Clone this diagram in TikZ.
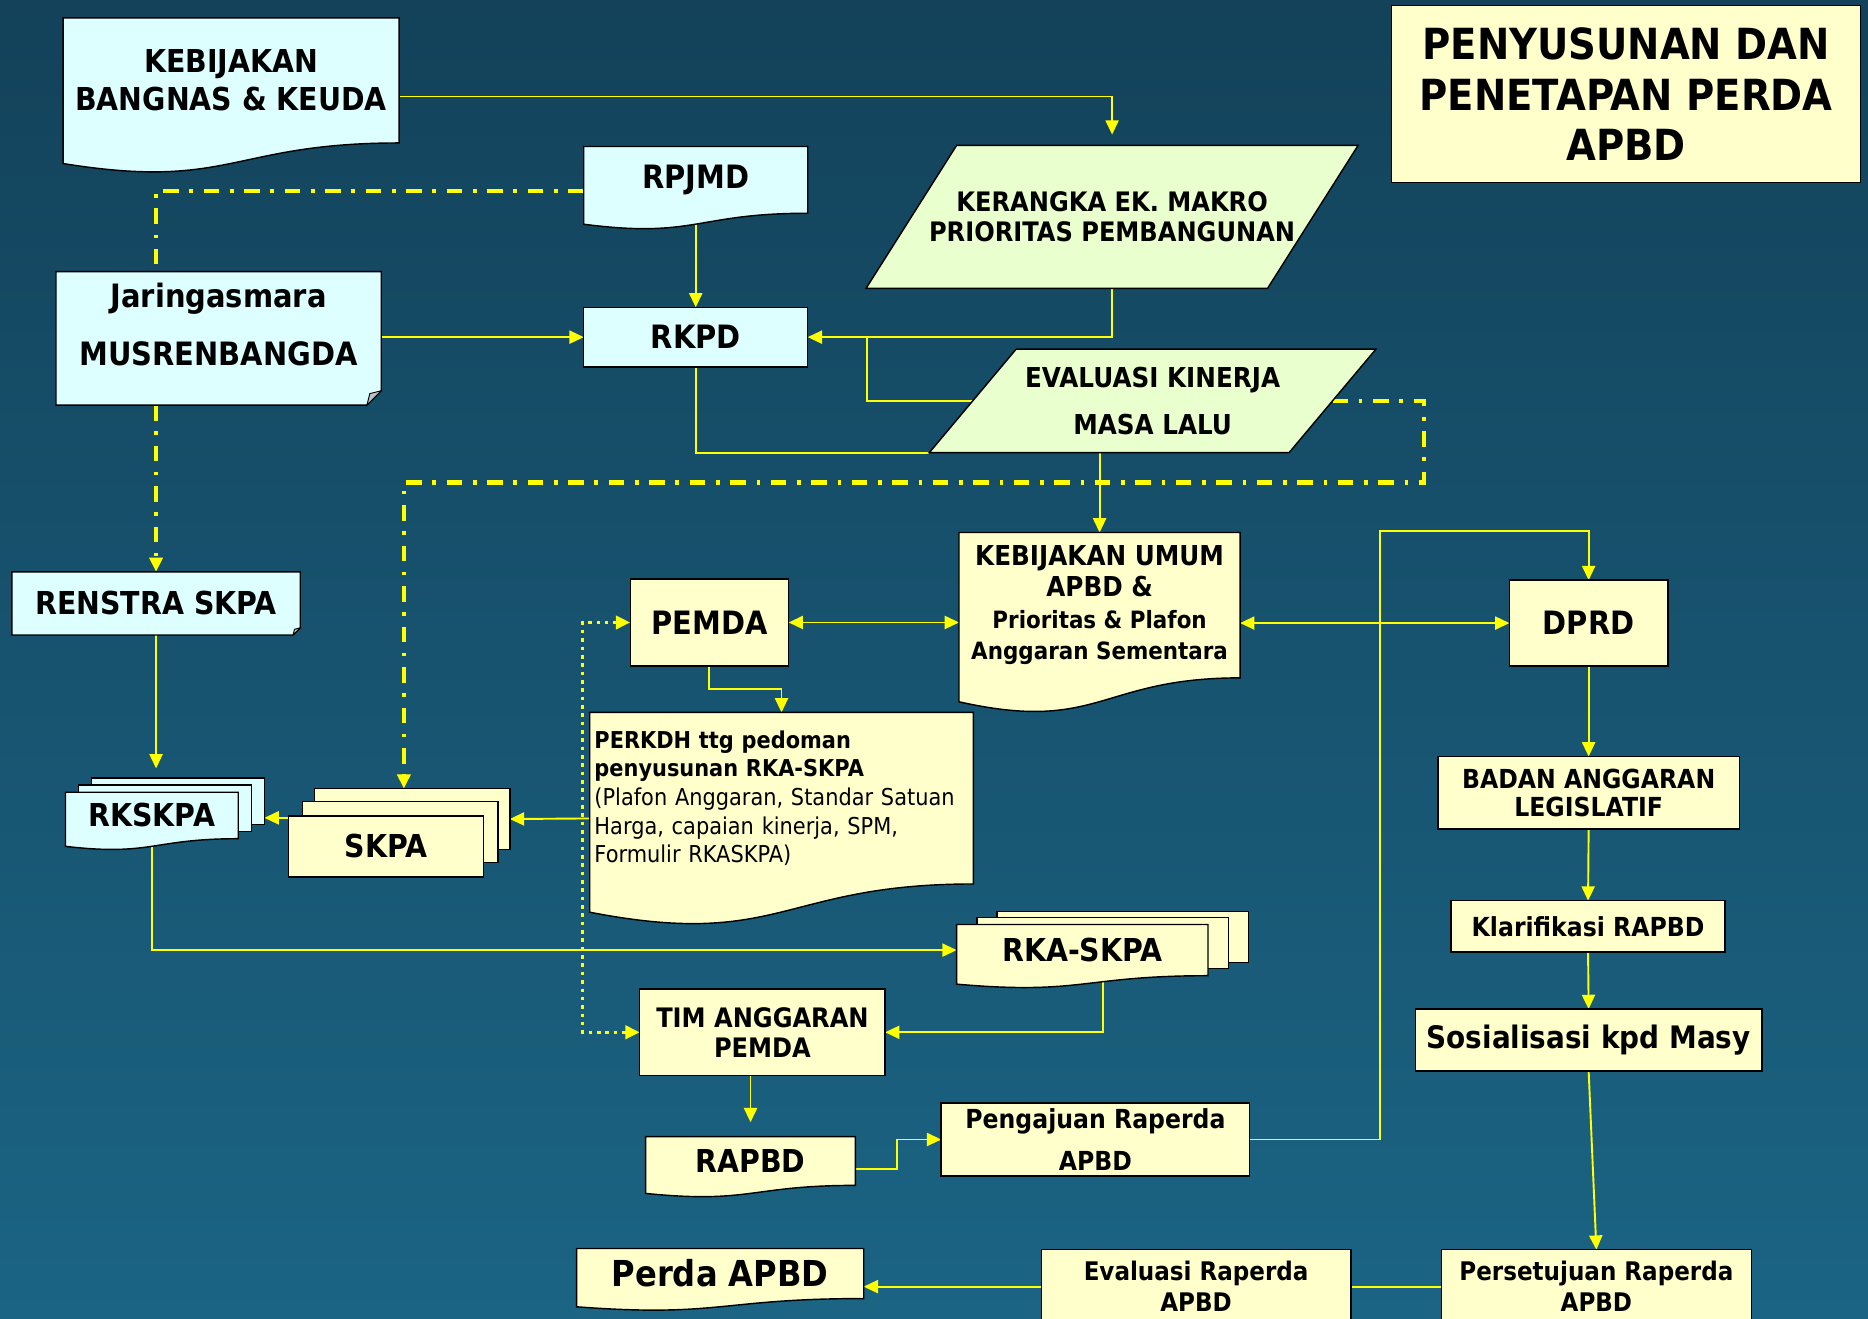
\documentclass[tikz,border=0pt]{standalone}
\usepackage{fontspec}
\setmainfont{DejaVu Sans}[FakeStretch=0.9]
\usepackage{tikz}
\usetikzlibrary{positioning,calc,arrows.meta}
\pgfdeclarelayer{backdrop}
\pgfdeclarelayer{links}
\pgfdeclarelayer{shapes}
\pgfsetlayers{backdrop,links,shapes,main}

\definecolor{boxcyan}{RGB}{221,255,255}
\definecolor{boxylw}{RGB}{255,255,204}
\definecolor{boxgreen}{RGB}{234,255,206}
\definecolor{flowylw}{RGB}{255,255,0}
\definecolor{bgtop}{RGB}{19,66,90}
\definecolor{bgbot}{RGB}{27,100,132}

\newcommand{\boxfont}[2]{\fontsize{#1}{#2}\selectfont}
% document page with wavy lower edge
\newcommand{\docwave}[2]{%
  \path[draw=black,line width=1.2pt,fill=#2] (#1.north west) -- (#1.north east) -- (#1.south east)
    .. controls (#1.south) and ($(#1.south)!-0.381!(#1.north)$) .. ($(#1.south west)!-0.1646!(#1.north west)$) -- cycle;}
% card with folded lower right corner
\newcommand{\foldbox}[3]{%
  \path[draw=black,line width=1.2pt,fill=#2] (#1.north west) -- (#1.north east) -- ($(#1.south east)+(0,-#3)$)
    -- ($(#1.south east)+(-#3,0)$) -- (#1.south west) -- cycle;
  \path[draw=black,line width=0.8pt,fill=#2!55!gray] ($(#1.south east)+(0,-#3)$) -- ($(#1.south east)+(-#3,0)$)
    -- ($(#1.south east)+(-0.8*#3,-0.8*#3)$) -- cycle;}
% slanted data box
\newcommand{\slantbox}[3]{%
  \path[draw=black,line width=1.2pt,fill=#2] ($(#1.north west)+(#3,0)$) -- (#1.north east)
    -- ($(#1.south east)+(-#3,0)$) -- (#1.south west) -- cycle;}
% sheet behind a stack
\newcommand{\backpage}[4]{%
  \path[draw=black,line width=1.2pt,fill=#2] ($(#1.north west)+(#3,#4)$) rectangle ($(#1.south east)+(#3,#4)$);}

\tikzset{
  wh/.style 2 args={minimum width=#1pt,minimum height=#2pt},
  txt/.style 2 args={font=\bfseries\boxfont{#1}{#2}},
  docnode/.style={inner sep=0pt,outer sep=0pt,align=center},
  cyanbox/.style={docnode,draw=black,line width=1.2pt,fill=boxcyan},
  ylwbox/.style={docnode,draw=black,line width=1.2pt,fill=boxylw},
  tip/.style={-{Triangle[length=12pt,width=11pt]}},
  flowline/.style={draw=flowylw,line width=1.6pt},
  flow/.style={flowline,tip},
  flowboth/.style={flowline,{Triangle[length=12pt,width=11pt]}-{Triangle[length=12pt,width=11pt]}},
  dashflow/.style={draw=flowylw,line width=3.5pt,dash pattern=on 13pt off 9pt on 3pt off 9pt},
  dotflow/.style={draw=flowylw,line width=3pt,dash pattern=on 3pt off 4pt,
    {Triangle[length=12pt,width=11pt]}-{Triangle[length=12pt,width=11pt]}},
}

\begin{document}
\begin{tikzpicture}[x=1pt,y=1pt,yscale=-1,xscale=1]
\useasboundingbox (0,0) rectangle (1568,1107);
\begin{pgfonlayer}{backdrop}
\shade[top color=bgtop,bottom color=bgbot] (0,0) rectangle (1568,1107);
\end{pgfonlayer}

% Text Node
\node[docnode,wh={282}{105},txt={26.5}{32}] (kebnas) at (194,67.5) {KEBIJAKAN\\BANGNAS \& KEUDA};
\node[docnode,wh={188}{56},txt={27}{32}] (rpjmd) at (584,151) {RPJMD};
\node[docnode,wh={413}{120},txt={22.5}{25}] (kerangka) at (933.5,182) {KERANGKA EK. MAKRO\\PRIORITAS PEMBANGUNAN};
\node[ylwbox,line width=0.8pt,wh={394}{148},txt={36}{42.5}] (title) at (1365,79) {PENYUSUNAN DAN\\PENETAPAN PERDA\\APBD};
\node[docnode,wh={273}{112}] (jaring) at (183.5,284) {};
\node[docnode,txt={27}{49}] (jaringtxt) at ($(jaring)+(0,-11.5)$) {Jaringasmara\\MUSRENBANGDA};
\node[cyanbox,wh={188}{50},txt={27}{32}] (rkpd) at (584,283) {RKPD};
\node[docnode,wh={375}{87},txt={23}{40}] (evalu) at (967.5,336.5) {EVALUASI KINERJA\\MASA LALU};
\node[docnode,wh={242}{53},txt={26.5}{32}] (renstra) at (131,506.5) {RENSTRA SKPA};
\node[ylwbox,wh={133}{73},txt={27}{32}] (pemda) at (595.5,522.5) {PEMDA};
\node[docnode,wh={236}{122},txt={23}{26.5}] (kum) at (923,508)
  {KEBIJAKAN UMUM\\APBD \&\\{\boxfont{20}{26.5}Prioritas \& Plafon}\\{\boxfont{20}{26.5}Anggaran Sementara}};
\node[ylwbox,wh={133}{72},txt={27}{32}] (dprd) at (1333.5,523) {DPRD};
\node[docnode,wh={322}{144},inner xsep=4pt,text width=314pt,align=left,font=\boxfont{19.5}{24}] (perkdh) at (656,670)
  {\textbf{PERKDH ttg pedoman}\\\textbf{penyusunan RKA-SKPA}\\(Plafon Anggaran, Standar Satuan\\Harga, capaian kinerja, SPM,\\Formulir RKASKPA)};
\node[docnode,wh={145}{39},txt={26.5}{32}] (rkskpa) at (127.5,684.5) {RKSKPA};
\node[ylwbox,wh={164}{51},txt={26.5}{32}] (skpa) at (324,710.5) {SKPA};
\node[docnode,wh={211}{43},txt={26.5}{32}] (rkaskpa) at (908.5,797.5) {RKA-SKPA};
\node[ylwbox,wh={206}{73},txt={22.5}{25}] (tim) at (640,866.5) {TIM ANGGARAN\\PEMDA};
\node[ylwbox,wh={253}{61},txt={22}{23}] (badan) at (1333.5,665.5) {BADAN ANGGARAN\\LEGISLATIF};
\node[ylwbox,wh={230}{43},txt={22}{26}] (klar) at (1333,777.5) {Klarifikasi RAPBD};
\node[ylwbox,wh={291}{52},txt={26}{30}] (sosial) at (1333.5,873) {Sosialisasi kpd Masy};
\node[docnode,wh={176}{41},txt={26.5}{32}] (rapbd) at (630,974.5) {RAPBD};
\node[ylwbox,wh={259}{61},txt={22}{35}] (pengaj) at (919.5,956.5) {Pengajuan Raperda\\APBD};
\node[docnode,wh={241}{42},txt={30}{34}] (perda) at (604.5,1069) {Perda APBD};
\node[ylwbox,wh={260}{62},txt={21.5}{26}] (evrap) at (1004,1080) {Evaluasi Raperda\\APBD};
\node[ylwbox,wh={260}{62},txt={21.5}{26}] (perset) at (1340,1080) {Persetujuan Raperda\\APBD};
\coordinate (loopc) at (1195,405);
\coordinate (uplink) at (1158,446);

%Shapes
\begin{pgfonlayer}{shapes}
\docwave{kebnas}{boxcyan}
\docwave{rpjmd}{boxcyan}
\slantbox{kerangka}{boxgreen}{76}
\foldbox{jaring}{boxcyan}{12}
\slantbox{evalu}{boxgreen}{73}
\foldbox{renstra}{boxcyan}{6}
\docwave{kum}{boxylw}
\docwave{perkdh}{boxylw}
\backpage{rkskpa}{boxcyan}{22}{-12}
\backpage{rkskpa}{boxcyan}{11}{-6}
\docwave{rkskpa}{boxcyan}
\backpage{skpa}{boxylw}{22}{-23}
\backpage{skpa}{boxylw}{12}{-12}
\backpage{rkaskpa}{boxylw}{34}{-11}
\backpage{rkaskpa}{boxylw}{17}{-6}
\docwave{rkaskpa}{boxylw}
\docwave{rapbd}{boxylw}
\docwave{perda}{boxylw}
\end{pgfonlayer}

%Straight Lines
\begin{pgfonlayer}{links}
\draw[flow,shorten >=9pt] ($(kebnas.east)+(0,13.5)$) -| (kerangka.north);
\draw[dashflow] ($(rpjmd.west)+(0,9)$) -| (renstra.north |- jaring.north);
\draw[dashflow,tip] (renstra.north |- jaring.south) -- (renstra.north);
\draw[flow] (rpjmd.south) -- (rkpd.north);
\draw[flow] (jaring.east |- rkpd.west) -- (rkpd.west);
\draw[flow] (kerangka.south) |- (rkpd.east);
\draw[flowline] ($(evalu.west)+(36.5,0)$) -| ($(rkpd.east)+(50,0)$);
\draw[flowline] (rkpd.south) |- (evalu.south west);
\draw[dashflow,tip] ($(evalu.east)+(-36.5,0)$) -| (loopc) -| ($(skpa.north)+(15,-23)$);
\draw[flow] (evalu.south -| kum.north) -- (kum.north);
\draw[flowboth] (pemda.east) -- (pemda.east -| kum.west);
\draw[flowboth] (kum.east |- dprd.west) -- (dprd.west);
\draw[flow] (pengaj.east) -| (uplink) -| (dprd.north);
\draw[flow] (dprd.south) -- (badan.north);
\draw[flow] (badan.south) -- (klar.north);
\draw[flow] (klar.south) -- (sosial.north);
\draw[flow] (sosial.south) -- (perset.north);
\draw[flowline] (perset.west) -- (evrap.east);
\draw[flow] (evrap.west) -- (evrap.west -| perda.east);
\draw[flow] (pemda.south) |- ($(perkdh.north)+(0,-20)$) -- (perkdh.north);
\draw[flow] ($(perkdh.west)+(0,17)$) -- ($(skpa.east)+(22,-23)$);
\draw[flow] ($(skpa.west)+(0,-24)$) -- ($(rkskpa.east)+(22,2)$);
\draw[flow,shorten >=8pt] (renstra.south) -- ($(renstra.south |- rkskpa.north)+(0,-12)$);
\draw[flow] (rkskpa.south) |- (rkaskpa.west);
\draw[flow] ($(rkaskpa.south)+(17,0)$) |- (tim.east);
\draw[dotflow] (pemda.west) -- ++(-40,0) |- (tim.west);
\draw[flow,shorten >=12pt] (rapbd.north |- tim.south) -- (rapbd.north);
\draw[flow] ($(rapbd.east)+(0,7)$) -- ++(35,0) |- (pengaj.west);
\end{pgfonlayer}
\end{tikzpicture}
\end{document}
